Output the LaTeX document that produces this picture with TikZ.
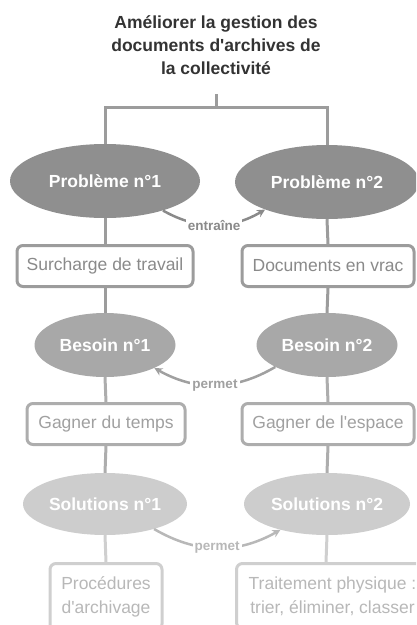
\documentclass[tikz,border=0pt]{standalone}
\usepackage{fontspec}
\setmainfont{Liberation Sans}[Ligatures=TeXOff]
\usetikzlibrary{shapes.geometric,arrows.meta}

\definecolor{titlecol}{HTML}{333333}
\definecolor{lvlA}{HTML}{8F8F8F}
\definecolor{lvlAline}{HTML}{9C9C9C}
\definecolor{lvlAtext}{HTML}{8A8A8A}
\definecolor{lvlB}{HTML}{A8A8A8}
\definecolor{lvlBline}{HTML}{ADADAD}
\definecolor{lvlBtext}{HTML}{A0A0A0}
\definecolor{lvlC}{HTML}{CDCDCD}
\definecolor{lvlCline}{HTML}{CFCFCF}
\definecolor{lvlCtext}{HTML}{B8B8B8}

\tikzset{
  oval/.style={ellipse, inner sep=0pt, text=white,
    font=\fontsize{17.5}{20}\selectfont\bfseries},
  card/.style={draw, rounded corners=6pt, line width=3pt, fill=white,
    inner xsep=7pt, minimum height=41pt,
    font=\fontsize{17.5}{24}\selectfont, align=center},
  link/.style={line width=3pt},
  relation/.style={line width=2.5pt, -{Stealth[length=8pt,width=8pt]}},
  tag/.style={fill=white, inner sep=2pt, font=\fontsize{13.5}{15}\selectfont\bfseries}
}

\begin{document}
\begin{tikzpicture}[x=1pt,y=-1pt]
\useasboundingbox (0,0) rectangle (416,625);
\clip (0,0) rectangle (416,625);

% goal
\node[align=center, text=titlecol, font=\fontsize{17.5}{23}\selectfont\bfseries]
  (title) at (216,45) {Améliorer la gestion des\\documents d'archives de\\la collectivité};
\coordinate (stem) at (216,94);
\coordinate (fork) at (216,107);

% problems
\node[oval, fill=lvlA, minimum width=190pt, minimum height=74pt] (p1) at (105,181) {Problème n°1};
\node[oval, fill=lvlA, minimum width=184pt, minimum height=74pt] (p2) at (327,182) {Problème n°2};
\node[card, draw=lvlAline, text=lvlAtext, minimum width=176pt] (c1) at (105,266) {Surcharge de travail};
\node[card, draw=lvlAline, text=lvlAtext, minimum width=172pt] (c2) at (328,266) {Documents en vrac};

% needs
\node[oval, fill=lvlB, minimum width=141pt, minimum height=64pt] (n1) at (105,345) {Besoin n°1};
\node[oval, fill=lvlB, minimum width=141pt, minimum height=64pt] (n2) at (327,345) {Besoin n°2};
\node[card, draw=lvlBline, text=lvlBtext, minimum width=158pt] (g1) at (106,424) {Gagner du temps};
\node[card, draw=lvlBline, text=lvlBtext, minimum width=172pt] (g2) at (328,424) {Gagner de l'espace};

% solutions
\node[oval, fill=lvlC, minimum width=164pt, minimum height=62pt] (s1) at (105,504) {Solutions n°1};
\node[oval, fill=lvlC, minimum width=166pt, minimum height=62pt] (s2) at (327,504) {Solutions n°2};
\node[card, draw=lvlCline, text=lvlCtext, minimum width=112pt, inner ysep=13pt, anchor=north] (r1) at (106,562)
  {Procédures\\d'archivage};
\node[card, draw=lvlCline, text=lvlCtext, minimum width=192pt, inner ysep=13pt, anchor=north west] (r2) at (235,562)
  {Traitement physique :\\trier, éliminer, classer};

% tree branches
\draw[link, draw=lvlAline] (stem) -- (fork);
\draw[link, draw=lvlAline] (p1.north) |- (fork) -| (p2.north);
\draw[link, draw=lvlAline] (p1.south) -- (c1.north);
\draw[link, draw=lvlAline] (p2.south) -- (c2.north);
\draw[link, draw=lvlAline] (c1.south) -- (n1.north);
\draw[link, draw=lvlAline] (c2.south) -- (n2.north);
\draw[link, draw=lvlBline] (n1.south) -- (g1.north);
\draw[link, draw=lvlBline] (n2.south) -- (g2.north);
\draw[link, draw=lvlBline] (g1.south) -- (s1.north);
\draw[link, draw=lvlBline] (g2.south) -- (s2.north);
\draw[link, draw=lvlCline] (s1.south) -- (r1.north);
\draw[link, draw=lvlCline] (s2.south) -- ([xshift=-1pt]s2.south |- r2.north);

% cross relations
\draw[relation, draw=lvlAtext] (p1.-27) to[bend right=30]
  node[tag, text=lvlAtext] {entraîne} (p2.-156);
\draw[relation, draw=lvlBtext] (n2.-157) to[bend left=30]
  node[tag, text=lvlBtext] {permet} (n1.-25);
\draw[relation, draw=lvlCtext] (s1.-27) to[bend right=30]
  node[tag, text=lvlCtext] {permet} (s2.-151);
\end{tikzpicture}
\end{document}
